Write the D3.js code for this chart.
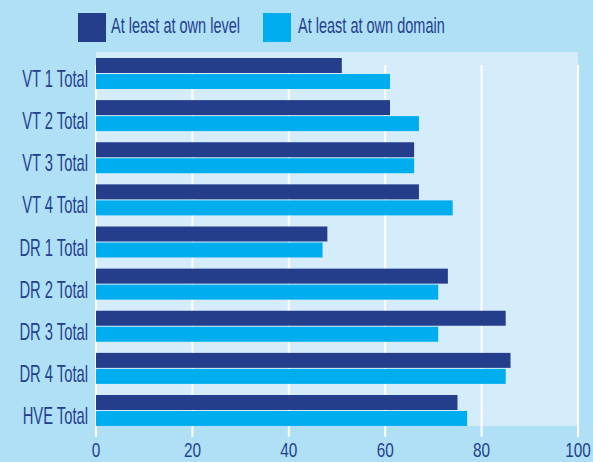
<!DOCTYPE html>
<html lang="en">
    <head>
        <meta charset="utf-8">
        <title>Own level / own domain</title>
        <script src="https://d3js.org/d3.v7.min.js"></script>
        <style type="text/css">
            body { margin: 0; background: #afe0f6; }
            text { font-family: "Liberation Sans", Arial, sans-serif; fill: #253f8e; }
        </style>
    </head>
    <body>
        <script type="text/javascript">

            const svgW = 593;
            const svgH = 462;

            const categories = ["VT 1 Total", "VT 2 Total", "VT 3 Total", "VT 4 Total",
                                "DR 1 Total", "DR 2 Total", "DR 3 Total", "DR 4 Total", "HVE Total"];
            const ownLevel  = [51, 61, 66, 67, 48, 73, 85, 86, 75];
            const ownDomain = [61, 67, 66, 74, 47, 71, 71, 85, 77];
            const seriesNames = ["At least at own level", "At least at own domain"];
            const seriesColors = ["#243e8c", "#00aeef"];
            const xTicks = [0, 20, 40, 60, 80, 100];

            const xScale = d3.scaleLinear()
                             .domain([0, 100])
                             .range([96, 578]);

            const yScale = d3.scaleBand()
                             .domain(categories)
                             .range([52, 432])
                             .paddingInner(0.264)
                             .paddingOuter(0.1425);

            const inner = d3.scaleBand()
                            .domain([0, 1])
                            .range([0, yScale.bandwidth()])
                            .paddingInner(0.0625);

            const svg = d3.select("body")
                    .append("svg")
                    .attr("width", svgW)
                    .attr("height", svgH);

            // plot background
            svg.append("rect")
                .attr("x", 96)
                .attr("y", 52)
                .attr("width", 482)
                .attr("height", 374)
                .attr("fill", "#d5edfb");

            // gridlines
            svg.selectAll("line.grid")
                .data(xTicks)
                .enter()
                .append("line")
                .attr("class", "grid")
                .attr("x1", d => xScale(d))
                .attr("x2", d => xScale(d))
                .attr("y1", 65)
                .attr("y2", 437)
                .attr("stroke", "#ffffff")
                .attr("stroke-width", 2);

            // bars
            const rows = categories.map((c, i) => ({cat: c, vals: [ownLevel[i], ownDomain[i]]}));

            const groups = svg.selectAll("g.row")
                .data(rows)
                .enter()
                .append("g")
                .attr("class", "row")
                .attr("transform", d => "translate(0," + yScale(d.cat) + ")");

            groups.selectAll("rect")
                .data(d => d.vals)
                .enter()
                .append("rect")
                .attr("x", xScale(0))
                .attr("y", (d, j) => inner(j))
                .attr("width", d => xScale(d) - xScale(0))
                .attr("height", inner.bandwidth())
                .attr("fill", (d, j) => seriesColors[j]);

            // the original uses a condensed face, so text is squeezed horizontally
            // category labels
            svg.selectAll("g.cat")
                .data(categories)
                .enter()
                .append("g")
                .attr("class", "cat")
                .attr("transform", d => "translate(88," + (yScale(d) + yScale.bandwidth() / 2 + 13.5) + ")")
                .append("text")
                .attr("transform", "scale(0.615,1)")
                .attr("text-anchor", "end")
                .attr("font-size", 24)
                .text(d => d);

            // x tick labels
            svg.selectAll("g.tick")
                .data(xTicks)
                .enter()
                .append("g")
                .attr("class", "tick")
                .attr("transform", d => "translate(" + xScale(d) + ",457)")
                .append("text")
                .attr("transform", "scale(0.73,1)")
                .attr("text-anchor", "middle")
                .attr("font-size", 21)
                .text(d => d);

            // legend
            const legendX = [78, 263];
            const legend = svg.selectAll("g.legend")
                .data(seriesNames)
                .enter()
                .append("g")
                .attr("class", "legend")
                .attr("transform", (d, i) => "translate(" + legendX[i] + ",13)");

            legend.append("rect")
                .attr("width", 28)
                .attr("height", 29)
                .attr("fill", (d, i) => seriesColors[i]);

            legend.append("text")
                .attr("transform", (d, i) => "translate(" + (i === 0 ? 33 : 35) + ",20) scale(0.645,1)")
                .attr("font-size", 22.5)
                .text(d => d);

        </script>
    </body>
</html>
